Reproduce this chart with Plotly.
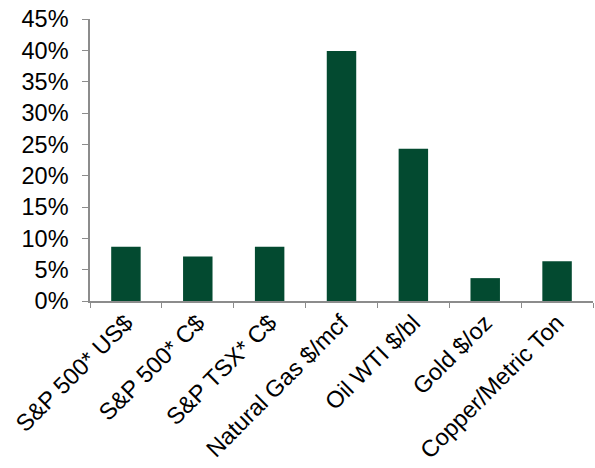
import plotly.graph_objects as go

categories = [
    "S&P 500* US$",
    "S&P 500* C$",
    "S&P TSX* C$",
    "Natural Gas $/mcf",
    "Oil WTI $/bl",
    "Gold $/oz",
    "Copper/Metric Ton",
]
returns_pct = [8.65, 7.1, 8.65, 39.9, 24.3, 3.65, 6.35]
y_ticks = [0, 5, 10, 15, 20, 25, 30, 35, 40, 45]

fig = go.Figure(
    go.Bar(
        x=categories,
        y=returns_pct,
        marker=dict(color="#034A30", line=dict(width=0)),
        width=0.41,
    )
)

family = "Liberation Sans, Arial, sans-serif"
x_font = dict(family=family, size=23.5, color="#000000")
y_font = dict(family=family, size=23.5, color="#000000")
axis_grey = "#8c8c8c"

fig.update_layout(
    width=595,
    height=468,
    margin=dict(l=90, r=2, t=19, b=167),
    paper_bgcolor="white",
    plot_bgcolor="white",
    showlegend=False,
    font=y_font,
)
fig.update_xaxes(
    showline=True,
    linecolor=axis_grey,
    linewidth=1.5,
    ticks="outside",
    tickson="boundaries",
    ticklen=5,
    tickcolor=axis_grey,
    tickangle=-45,
    tickfont=x_font,
    ticklabelstandoff=-3,
    ticklabelshift=0,
    showgrid=False,
    automargin=False,
)
fig.update_yaxes(
    range=[0, 45],
    tickvals=y_ticks,
    ticktext=[f"{v}%" for v in y_ticks],
    showline=True,
    linecolor=axis_grey,
    linewidth=1.5,
    ticks="outside",
    ticklen=6,
    tickcolor=axis_grey,
    tickfont=y_font,
    ticklabelstandoff=9,
    showgrid=False,
    zeroline=False,
    automargin=False,
)

fig.write_html("out.html")
